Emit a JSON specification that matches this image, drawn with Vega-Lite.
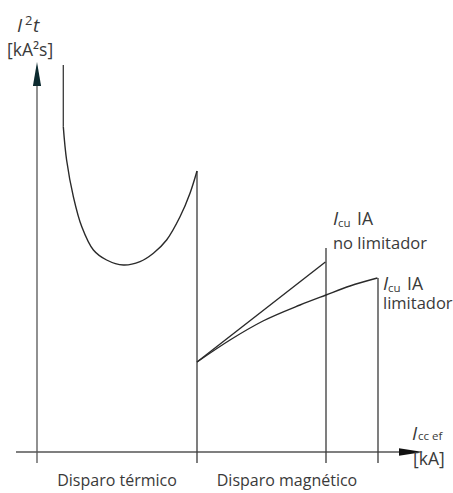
{
  "$schema": "https://vega.github.io/schema/vega-lite/v6.json",
  "width": 453,
  "height": 493,
  "padding": 0,
  "autosize": {"type": "none"},
  "background": "white",
  "config": {"view": {"stroke": null}, "text": {"font": "Open Sans", "color": "#3a3a3a"}},
  "datasets": {
    "thermal": [
      {"i": 6.575, "e": 81.3},
      {"i": 7.4, "e": 73},
      {"i": 9.1, "e": 63.8},
      {"i": 11.2, "e": 56.3},
      {"i": 14.1, "e": 50.5},
      {"i": 17.4, "e": 48},
      {"i": 21.6, "e": 46.75},
      {"i": 25.75, "e": 47.6},
      {"i": 29.1, "e": 49.7},
      {"i": 32.4, "e": 53},
      {"i": 35.75, "e": 58.8},
      {"i": 38.25, "e": 64.7},
      {"i": 40, "e": 70.25}
    ],
    "limiting": [
      {"i": 40, "e": 22.5},
      {"i": 48.25, "e": 28},
      {"i": 56.5, "e": 32.75},
      {"i": 65.75, "e": 36.75},
      {"i": 72.25, "e": 39.25},
      {"i": 78.25, "e": 41.5},
      {"i": 85.1, "e": 43.5}
    ],
    "nonLimiting": [
      {"i": 40, "e": 22.5},
      {"i": 72.1, "e": 47.5}
    ],
    "verticals": [
      {"i": 6.575, "top": 96.75, "bottom": 81.3},
      {"i": 40, "top": 70.25, "bottom": -2.75},
      {"i": 72.25, "top": 51, "bottom": -2.75},
      {"i": 85.25, "top": 43.5, "bottom": -2.75}
    ]
  },
  "encoding": {
    "x": {"type": "quantitative", "scale": {"domain": [-9.25, 104], "nice": false, "zero": false}, "axis": null},
    "y": {"type": "quantitative", "scale": {"domain": [-10.25, 113], "nice": false, "zero": false}, "axis": null}
  },
  "layer": [
    {
      "data": {"values": [{"i": 0, "top": 91.5, "bottom": -2.75}]},
      "mark": {"type": "rule", "color": "#555555", "strokeWidth": 1.3},
      "encoding": {
        "x": {"field": "i", "type": "quantitative"},
        "y": {"field": "top", "type": "quantitative"},
        "y2": {"field": "bottom"}
      }
    },
    {
      "data": {"values": [{"left": -5.25, "right": 90.75, "e": 0}]},
      "mark": {"type": "rule", "color": "#555555", "strokeWidth": 1.3},
      "encoding": {
        "x": {"field": "left", "type": "quantitative"},
        "x2": {"field": "right"},
        "y": {"field": "e", "type": "quantitative"}
      }
    },
    {
      "data": {"name": "verticals"},
      "mark": {"type": "rule", "color": "#3a3a3a", "strokeWidth": 1.3},
      "encoding": {
        "x": {"field": "i", "type": "quantitative"},
        "y": {"field": "top", "type": "quantitative"},
        "y2": {"field": "bottom"}
      }
    },
    {
      "data": {"name": "thermal"},
      "mark": {"type": "line", "color": "#2a2a2a", "strokeWidth": 1.4, "interpolate": "catmull-rom"},
      "encoding": {
        "x": {"field": "i", "type": "quantitative"},
        "y": {"field": "e", "type": "quantitative"}
      }
    },
    {
      "data": {"name": "limiting"},
      "mark": {"type": "line", "color": "#2a2a2a", "strokeWidth": 1.4, "interpolate": "monotone"},
      "encoding": {
        "x": {"field": "i", "type": "quantitative"},
        "y": {"field": "e", "type": "quantitative"}
      }
    },
    {
      "data": {"name": "nonLimiting"},
      "mark": {"type": "line", "color": "#2a2a2a", "strokeWidth": 1.4},
      "encoding": {
        "x": {"field": "i", "type": "quantitative"},
        "y": {"field": "e", "type": "quantitative"}
      }
    },
    {
      "data": {"values": [{"i": 0, "e": 94.5}]},
      "mark": {"type": "point", "shape": "M0,-1L0.34,1L-0.34,1Z", "size": 576, "filled": true, "color": "#0c2a2f", "opacity": 1},
      "encoding": {
        "x": {"field": "i", "type": "quantitative"},
        "y": {"field": "e", "type": "quantitative"}
      }
    },
    {
      "data": {"values": [{"i": 93.5, "e": 0}]},
      "mark": {"type": "point", "shape": "M1,0L-1,0.32L-1,-0.32Z", "size": 576, "filled": true, "color": "#111111", "opacity": 1},
      "encoding": {
        "x": {"field": "i", "type": "quantitative"},
        "y": {"field": "e", "type": "quantitative"}
      }
    },
    {
      "data": {"values": [
        {"i": -5, "e": 105, "label": "I"},
        {"i": -1, "e": 105, "label": "t"},
        {"i": 74, "e": 56.75, "label": "I"},
        {"i": 86.5, "e": 40.5, "label": "I"},
        {"i": 93.75, "e": 3, "label": "I"}
      ]},
      "mark": {"type": "text", "fontSize": 19, "fontStyle": "italic", "align": "left", "baseline": "alphabetic"},
      "encoding": {
        "x": {"field": "i", "type": "quantitative"},
        "y": {"field": "e", "type": "quantitative"},
        "text": {"field": "label"}
      }
    },
    {
      "data": {"values": [
        {"i": -3, "e": 106.75, "label": "2"}
      ]},
      "mark": {"type": "text", "fontSize": 13, "align": "left", "baseline": "alphabetic"},
      "encoding": {
        "x": {"field": "i", "type": "quantitative"},
        "y": {"field": "e", "type": "quantitative"},
        "text": {"field": "label"}
      }
    },
    {
      "data": {"values": [
        {"i": 75.25, "e": 56.25, "label": "cu"},
        {"i": 87.75, "e": 40, "label": "cu"},
        {"i": 95.25, "e": 3, "label": "cc ef"}
      ]},
      "mark": {"type": "text", "fontSize": 11.5, "align": "left", "baseline": "alphabetic"},
      "encoding": {
        "x": {"field": "i", "type": "quantitative"},
        "y": {"field": "e", "type": "quantitative"},
        "text": {"field": "label"}
      }
    },
    {
      "data": {"values": [
        {"i": 80, "e": 56.75, "label": "IA"},
        {"i": 92.5, "e": 40.5, "label": "IA"},
        {"i": 94, "e": -3.25, "label": "[kA]"}
      ]},
      "mark": {"type": "text", "fontSize": 17.5, "align": "left", "baseline": "alphabetic"},
      "encoding": {
        "x": {"field": "i", "type": "quantitative"},
        "y": {"field": "e", "type": "quantitative"},
        "text": {"field": "label"}
      }
    },
    {
      "data": {"values": [
        {"i": 74, "e": 50.75, "label": "no limitador"},
        {"i": 86.5, "e": 35.75, "label": "limitador"}
      ]},
      "mark": {"type": "text", "fontSize": 16.5, "align": "left", "baseline": "alphabetic"},
      "encoding": {
        "x": {"field": "i", "type": "quantitative"},
        "y": {"field": "e", "type": "quantitative"},
        "text": {"field": "label"}
      }
    },
    {
      "data": {"values": [
        {"i": -7.5, "e": 99, "label": "[kA²s]"}
      ]},
      "mark": {"type": "text", "fontSize": 17.5, "align": "left", "baseline": "alphabetic"},
      "encoding": {
        "x": {"field": "i", "type": "quantitative"},
        "y": {"field": "e", "type": "quantitative"},
        "text": {"field": "label"}
      }
    },
    {
      "data": {"values": [
        {"i": 20, "e": -8.5, "label": "Disparo térmico"},
        {"i": 62.5, "e": -8.5, "label": "Disparo magnético"}
      ]},
      "mark": {"type": "text", "fontSize": 16, "align": "center", "baseline": "alphabetic"},
      "encoding": {
        "x": {"field": "i", "type": "quantitative"},
        "y": {"field": "e", "type": "quantitative"},
        "text": {"field": "label"}
      }
    }
  ]
}
